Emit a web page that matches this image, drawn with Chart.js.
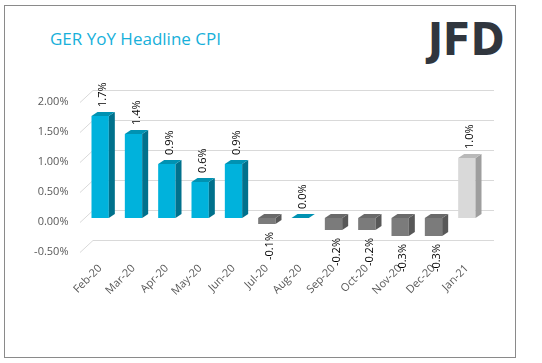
<!DOCTYPE html>
<html>
<head>
<meta charset="utf-8">
<script src="https://cdn.jsdelivr.net/npm/chart.js@4.4.1/dist/chart.umd.min.js"></script>
<style>
  html, body { margin: 0; padding: 0; background: #fff; }
  #wrap { position: relative; width: 542px; height: 363px; overflow: hidden; }
  #frame { position: absolute; left: 4px; top: 5px; width: 510px; height: 351px; border: 1px solid #8a8a8a; }
  #title { position: absolute; left: 50px; top: 27px; font: 17px "Open Sans", sans-serif; color: #17b0da; white-space: nowrap; }
  #logo { position: absolute; left: 428px; top: 13px; font: bold 45px "DejaVu Sans Condensed", "DejaVu Sans", sans-serif; color: #30363e; letter-spacing: 0px; white-space: nowrap; }
  canvas { position: absolute; left: 0; top: 0; }
</style>
</head>
<body>
<div id="wrap">
  <div id="frame"></div>
  <div id="title">GER YoY Headline CPI</div>
  <div id="logo">JFD</div>
  <canvas id="cpiChart" width="542" height="363"></canvas>
</div>
<script>
// data
const months = ["Feb-20", "Mar-20", "Apr-20", "May-20", "Jun-20", "Jul-20",
                "Aug-20", "Sep-20", "Oct-20", "Nov-20", "Dec-20", "Jan-21"];
const cpiYoY = [1.7, 1.4, 0.9, 0.6, 0.9, -0.1, 0.0, -0.2, -0.2, -0.3, -0.3, 1.0];
const yMin = -0.5;
const yMax = 2.0;
const yStep = 0.5;

// colours: blue for >= 0, grey for negative, light grey for the latest print
const faces = {
    blue:  { front: "#00b2dc", side: "#00718c", top: "#0092b2" },
    grey:  { front: "#7b7b7b", side: "#585858", top: "#6a6a6a" },
    light: { front: "#d9d9d9", side: "#9e9e9e", top: "#b9b9b9" }
};

function faceFor(i) {
    if (i === cpiYoY.length - 1) return faces.light;
    return cpiYoY[i] < 0 ? faces.grey : faces.blue;
}

const DX = 6, DY = 4;

const bar3d = {
    id: "bar3d",
    beforeDatasetsDraw(chart) {
        const ctx = chart.ctx;
        const area = chart.chartArea;
        const ys = chart.scales.y;
        ctx.save();
        ctx.strokeStyle = "#d9d9d9";
        ctx.lineWidth = 1;
        ys.ticks.forEach(t => {
            const py = Math.round(ys.getPixelForValue(t.value) - 8) + 0.5;
            ctx.beginPath();
            ctx.moveTo(area.left - 3.5, py + 12);
            ctx.lineTo(area.left + 9.5, py);
            ctx.lineTo(area.right + 10.5, py);
            ctx.stroke();
        });
        ctx.restore();
    },
    afterDatasetsDraw(chart) {
        const ctx = chart.ctx;
        const meta = chart.getDatasetMeta(0);
        ctx.save();
        meta.data.forEach((bar, i) => {
            const p = bar.getProps(["x", "y", "base", "width"], true);
            const c = faceFor(i);
            const left = p.x - p.width / 2;
            const right = p.x + p.width / 2;
            const top = Math.min(p.y, p.base);
            const bottom = Math.max(p.y, p.base);

            // side
            ctx.fillStyle = c.side;
            ctx.beginPath();
            ctx.moveTo(right, top);
            ctx.lineTo(right + DX, top - DY);
            ctx.lineTo(right + DX, bottom - DY);
            ctx.lineTo(right, bottom);
            ctx.closePath();
            ctx.fill();

            // top
            ctx.fillStyle = c.top;
            ctx.beginPath();
            ctx.moveTo(left, top);
            ctx.lineTo(left + DX, top - DY);
            ctx.lineTo(right + DX, top - DY);
            ctx.lineTo(right, top);
            ctx.closePath();
            ctx.fill();

            // value label
            const v = cpiYoY[i];
            ctx.save();
            ctx.font = '11px "Open Sans", sans-serif';
            ctx.fillStyle = "#000";
            ctx.textBaseline = "middle";
            if (v >= 0) {
                ctx.translate(p.x + 3, top - 9);
                ctx.textAlign = "left";
            } else {
                ctx.translate(p.x + 3, bottom + 8);
                ctx.textAlign = "right";
            }
            ctx.rotate(-Math.PI / 2);
            ctx.fillText(v.toFixed(1) + "%", 0, 0);
            ctx.restore();
        });
        ctx.restore();
    }
};

new Chart(document.getElementById("cpiChart"), {

    type: "bar",

    data: {
        labels: months,
        datasets: [{
            data: cpiYoY,
            backgroundColor: cpiYoY.map((v, i) => faceFor(i).front),
            borderWidth: 0,
            categoryPercentage: 1,
            barPercentage: 0.52
        }]
    },

    options: {
        responsive: false,
        animation: false,
        devicePixelRatio: 1,
        layout: {
            padding: { top: 98, right: 58.5, left: 0, bottom: 0 }
        },
        plugins: {
            legend: { display: false },
            tooltip: { enabled: false }
        },
        scales: {
            x: {
                grid: { display: false, drawTicks: false },
                border: { display: false },
                ticks: {
                    color: "#595959",
                    font: { family: "Open Sans", size: 11 },
                    maxRotation: 45,
                    minRotation: 45,
                    autoSkip: false,
                    padding: 14
                },
                afterFit(scale) { scale.height = 115; }
            },
            y: {
                min: yMin,
                max: yMax,
                grid: { display: false, drawTicks: false },
                border: { display: false },
                ticks: {
                    stepSize: yStep,
                    color: "#595959",
                    font: { family: "Open Sans", size: 11 },
                    padding: 15,
                    labelOffset: 4,
                    callback: v => v.toFixed(2) + "%"
                },
                afterFit(scale) { scale.width = 83.5; }
            }
        }
    },

    plugins: [bar3d]

});
</script>
</body>
</html>
